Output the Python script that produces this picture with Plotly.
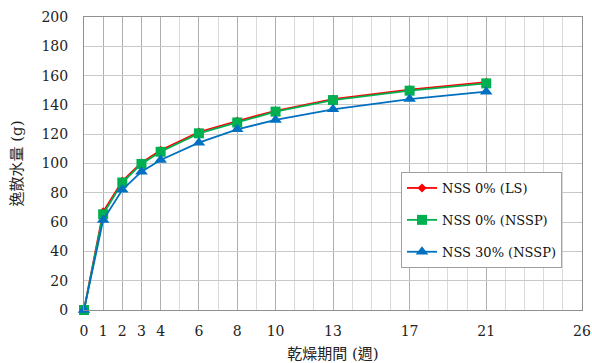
import plotly.graph_objects as go

weeks = [0, 1, 2, 3, 4, 6, 8, 10, 13, 17, 21]
ls_0 = [0, 67, 88, 100.5, 109, 121.5, 129, 136, 144, 150.5, 155.5]
nssp_0 = [0, 65.3, 87, 99.7, 108, 120.6, 128, 135.4, 143.3, 149.7, 154.7]
nssp_30 = [0, 61.4, 82, 94.4, 102.4, 114.2, 123.3, 129.7, 137, 144, 149]
x_ticks = [0, 1, 2, 3, 4, 6, 8, 10, 13, 17, 21, 26]
names = ["NSS 0% (LS)", "NSS 0% (NSSP)", "NSS 30% (NSSP)"]

font_fam = "DejaVu Serif, Noto Sans CJK TC"

fig = go.Figure()
styles = [
    dict(color="#FF0000", symbol="diamond", size=7),
    dict(color="#00B050", symbol="square", size=10),
    dict(color="#0070C0", symbol="triangle-up", size=11),
]
for i, (nm, ys) in enumerate(zip(names, [ls_0, nssp_0, nssp_30])):
    st = styles[i]
    fig.add_trace(go.Scatter(
        x=weeks, y=ys, name=nm, mode="lines+markers",
        legendgroup=f"g{i}",
        line=dict(color=st["color"], width=1.8),
        marker=dict(color=st["color"], symbol=st["symbol"], size=st["size"]),
        cliponaxis=False,
    ))

L, R, T, B = 84, 10, 17, 53
fig.update_layout(
    width=592, height=363,
    margin=dict(l=L, r=R, t=T, b=B, autoexpand=False),
    paper_bgcolor="white", plot_bgcolor="white",
    font=dict(family=font_fam, size=14, color="#222"),
    showlegend=True,
    legend=dict(
        x=(401 - L) / (592 - L - R), y=1 - (172 - T) / (363 - T - B),
        xanchor="left", yanchor="top",
        bordercolor="#A0A0A0", borderwidth=1, bgcolor="white",
        font=dict(family=font_fam, size=13, color="#111"),
        tracegroupgap=12,
        itemwidth=30,
    ),
)

fig.update_xaxes(
    range=[0, 26], tickmode="array", tickvals=x_ticks,
    ticktext=[str(v) for v in x_ticks],
    showgrid=True, gridcolor="#B0B0B0", gridwidth=1,
    minor=dict(dtick=1, tick0=0, showgrid=True, gridcolor="#DADADA", gridwidth=1),
    showline=True, linecolor="#909090", linewidth=1, mirror=True,
    zeroline=False, ticks="", ticklabelstandoff=8, automargin=False,
    tickfont=dict(family=font_fam, size=14),
    title=dict(text="乾燥期間 (週)", font=dict(family=font_fam, size=15)),
)
fig.update_yaxes(
    range=[0, 200], dtick=20, tick0=0,
    showgrid=True, gridcolor="#C8C8C8", gridwidth=1,
    showline=True, linecolor="#909090", linewidth=1, mirror=True,
    zeroline=False, ticks="", ticklabelstandoff=12, automargin=False,
    tickfont=dict(family=font_fam, size=14),
    title=dict(text="逸散水量 (g)", font=dict(family=font_fam, size=15)),
)

fig.write_html("out.html", config={"displayModeBar": False},
               post_script="document.body.style.margin='0';document.body.style.padding='0';")
